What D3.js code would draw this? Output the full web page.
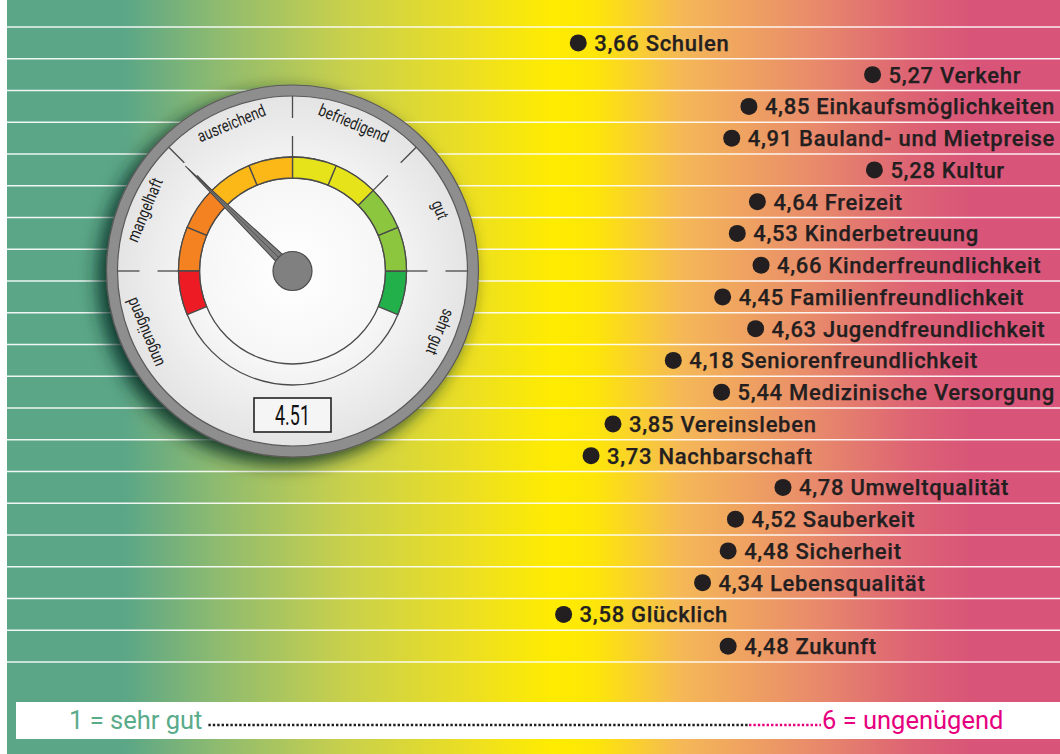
<!DOCTYPE html>
<html>
<head>
<meta charset="utf-8">
<script src="https://cdn.jsdelivr.net/npm/d3@7"></script>
<style>
  body { margin: 0; background: #fff; }
  svg { display: block; }
</style>
</head>
<body>
<div id="chart"></div>
<script>
const width = 1060;
const height = 754;

// rows, top to bottom
const topics = [
  "Schulen", "Verkehr", "Einkaufsmöglichkeiten", "Bauland- und Mietpreise",
  "Kultur", "Freizeit", "Kinderbetreuung", "Kinderfreundlichkeit",
  "Familienfreundlichkeit", "Jugendfreundlichkeit", "Seniorenfreundlichkeit",
  "Medizinische Versorgung", "Vereinsleben", "Nachbarschaft", "Umweltqualität",
  "Sauberkeit", "Sicherheit", "Lebensqualität", "Glücklich", "Zukunft"
];
const grades = [
  3.66, 5.27, 4.85, 4.91, 5.28, 4.64, 4.53, 4.66, 4.45, 4.63,
  4.18, 5.44, 3.85, 3.73, 4.78, 4.52, 4.48, 4.34, 3.58, 4.48
];

// school grades on the dial
const gradeNames = ["sehr gut", "gut", "befriedigend", "ausreichend", "mangelhaft", "ungenügend"];
const gradeValues = [1, 2, 3, 4, 5, 6];
const segBreaks = [1, 1.5, 2, 2.5, 3, 3.5, 4, 4.5, 5, 5.5, 6];
const segColors = ["#22b04b", "#8cc63f", "#8cc63f", "#e6e31a", "#e6e31a",
                   "#fbb817", "#fbb817", "#f58220", "#f58220", "#ed1c24"];
const tickValues = [1.5, 2.5, 3.5, 4.5, 5.5];

const legendLeft = "1 = sehr gut";
const legendRight = "6 = ungenügend";

const de = d3.formatLocale({ decimal: ",", thousands: ".", grouping: [3], currency: ["", " €"] });
const fmtDe = de.format(".2f");

const data = topics.map((t, i) => ({ topic: t, grade: grades[i] }));

const svg = d3.select("#chart").append("svg")
  .attr("width", width)
  .attr("height", height);

const defs = svg.append("defs");

// background gradient
const bg = defs.append("linearGradient").attr("id", "bg")
  .attr("x1", 0).attr("x2", 1).attr("y1", 0).attr("y2", 0);
[
  [0.0, "#5aa687"], [0.11, "#5aa687"], [0.2, "#8ebb70"], [0.32, "#c8d04c"],
  [0.44, "#ecdf22"], [0.52, "#ffec00"], [0.56, "#fde50a"], [0.64, "#f5b857"],
  [0.76, "#e98d6a"], [0.86, "#dd6374"], [0.92, "#d85478"], [1.0, "#d85478"]
].forEach(([o, c]) => bg.append("stop").attr("offset", o).attr("stop-color", c));

const face = defs.append("radialGradient").attr("id", "face");
face.append("stop").attr("offset", 0).attr("stop-color", "#ffffff");
face.append("stop").attr("offset", 0.55).attr("stop-color", "#f6f6f6");
face.append("stop").attr("offset", 1).attr("stop-color", "#e4e4e4");

const shadow = defs.append("filter").attr("id", "shadow")
  .attr("x", "-30%").attr("y", "-30%").attr("width", "160%").attr("height", "160%");
shadow.append("feDropShadow")
  .attr("dx", -8).attr("dy", 7).attr("stdDeviation", 9)
  .attr("flood-color", "#06261a").attr("flood-opacity", 0.85);

svg.append("rect")
  .attr("x", 7).attr("y", 0)
  .attr("width", width - 7).attr("height", height)
  .attr("fill", "url(#bg)");

// scales
const y = d3.scaleBand().domain(topics).range([27, 662]);
const x = d3.scaleLinear().domain([1, 6]).range([92, 1006]);

// row separators
const rowLines = d3.range(topics.length + 1).map((i) => 27 + i * y.step());
svg.append("g").selectAll("line")
  .data(rowLines)
  .join("line")
  .attr("x1", 7).attr("x2", width)
  .attr("y1", (d) => d).attr("y2", (d) => d)
  .attr("stroke", "#fff").attr("stroke-opacity", 0.9).attr("stroke-width", 1.6);

// rows: dot + label
const rows = svg.append("g").selectAll("g")
  .data(data)
  .join("g");

rows.append("text")
  .attr("dy", "0.36em")
  .attr("font-family", "Roboto, 'Noto Sans', sans-serif")
  .attr("font-weight", 500)
  .attr("font-size", 22)
  .attr("letter-spacing", 0.7)
  .attr("fill", "#231f20")
  .attr("stroke", "#231f20")
  .attr("stroke-width", 0.25)
  .text((d) => `${fmtDe(d.grade)} ${d.topic}`);

rows.each(function (d) {
  const g = d3.select(this);
  const w = g.select("text").node().getComputedTextLength();
  let cx = x(d.grade);
  // long labels get pulled left so they stay in the picture
  if (cx + 17 + w > 1056) cx = 1056 - 17 - w;
  g.attr("transform", `translate(${cx},${y(d.topic) + y.bandwidth() / 2})`);
  g.select("text").attr("x", 16);
});

rows.append("circle")
  .attr("r", 8.5)
  .attr("fill", "#231f20");

// gauge
const cx = 292.5, cy = 271;
const gauge = svg.append("g").attr("transform", `translate(${cx},${cy})`);
const ang = d3.scaleLinear().domain([1, 6]).range([112.5, -112.5]);
const rad = (v) => (ang(v) * Math.PI) / 180;

gauge.append("circle").attr("r", 186).attr("fill", "#8e8e8e")
  .attr("stroke", "#5a5a5a").attr("stroke-width", 1.2)
  .attr("filter", "url(#shadow)");
gauge.append("circle").attr("r", 175).attr("fill", "url(#face)")
  .attr("stroke", "#5a5a5a").attr("stroke-width", 1.2);

// inner ring outlines
[93, 114].forEach((r) =>
  gauge.append("circle").attr("r", r).attr("fill", "none")
    .attr("stroke", "#4a4a4a").attr("stroke-width", 1.3));

const segs = d3.range(segBreaks.length - 1).map((i) => ({
  a: segBreaks[i], b: segBreaks[i + 1], color: segColors[i]
}));
const arc = d3.arc().innerRadius(93).outerRadius(114);
gauge.append("g").selectAll("path")
  .data(segs)
  .join("path")
  .attr("d", (d) => arc({ startAngle: rad(d.b), endAngle: rad(d.a) }))
  .attr("fill", (d) => d.color)
  .attr("stroke", "#4a4a4a")
  .attr("stroke-width", 1.3);

// ticks between grades
const ticks = gauge.append("g").selectAll("g")
  .data(tickValues)
  .join("g")
  .attr("transform", (d) => `rotate(${ang(d)})`);
ticks.append("line").attr("y1", -153).attr("y2", -175)
  .attr("stroke", "#4a4a4a").attr("stroke-width", 1.3);
ticks.append("line").attr("y1", -114).attr("y2", -135)
  .attr("stroke", "#4a4a4a").attr("stroke-width", 1.3);

// grade names (narrowed, the dial uses a condensed face)
gauge.append("g").selectAll("text")
  .data(gradeValues)
  .join("text")
  .attr("transform", (d) => `rotate(${ang(d)}) translate(0,-160) scale(0.78,1)`)
  .attr("text-anchor", "middle")
  .attr("dy", "0.35em")
  .attr("font-family", "Roboto, sans-serif")
  .attr("font-size", 17)
  .attr("fill", "#1e1e1e")
  .text((d, i) => gradeNames[i]);

// needle at the overall mean
const mean = d3.mean(grades);
const needle = gauge.append("g").attr("transform", `rotate(${ang(mean)})`);
needle.append("path")
  .attr("d", "M-5.5,0L0,-150L5.5,0Z")
  .attr("fill", "#7b7b7b").attr("stroke", "#444").attr("stroke-width", 1);
needle.append("line").attr("y1", 0).attr("y2", -146)
  .attr("stroke", "#4d4d4d").attr("stroke-width", 0.8);
gauge.append("circle").attr("r", 19.5)
  .attr("fill", "#808080").attr("stroke", "#4d4d4d").attr("stroke-width", 1.2);

// value box
gauge.append("rect")
  .attr("x", -38.5).attr("y", 127).attr("width", 77).attr("height", 34)
  .attr("fill", "#f5f5f5").attr("stroke", "#222").attr("stroke-width", 1.6);
gauge.append("text")
  .attr("transform", "translate(0,144) scale(0.64,1)")
  .attr("dy", "0.36em")
  .attr("text-anchor", "middle")
  .attr("font-family", "Roboto, sans-serif")
  .attr("font-size", 28)
  .attr("fill", "#111")
  .text(d3.format(".2f")(mean));

// legend strip
const legend = svg.append("g");
legend.append("rect")
  .attr("x", 16).attr("y", 702).attr("width", width - 16).attr("height", 37)
  .attr("fill", "#fff");
const lt = legend.append("text")
  .attr("x", 69).attr("y", 729)
  .attr("font-family", "Roboto, 'Noto Sans', sans-serif")
  .attr("font-size", 25.5)
  .attr("fill", "#5aab8a")
  .text(legendLeft);
legend.append("text")
  .attr("x", 822).attr("y", 729)
  .attr("font-family", "Roboto, 'Noto Sans', sans-serif")
  .attr("font-size", 25.5)
  .attr("fill", "#e6007e")
  .text(legendRight);
const leadStart = 69 + lt.node().getComputedTextLength() + 6;
legend.append("line")
  .attr("x1", leadStart).attr("x2", 748).attr("y1", 725).attr("y2", 725)
  .attr("stroke", "#231f20").attr("stroke-width", 2.4)
  .attr("stroke-dasharray", "2.4 2");
legend.append("line")
  .attr("x1", 749).attr("x2", 821).attr("y1", 725).attr("y2", 725)
  .attr("stroke", "#e6007e").attr("stroke-width", 2.4)
  .attr("stroke-dasharray", "2.4 2");
</script>
</body>
</html>
